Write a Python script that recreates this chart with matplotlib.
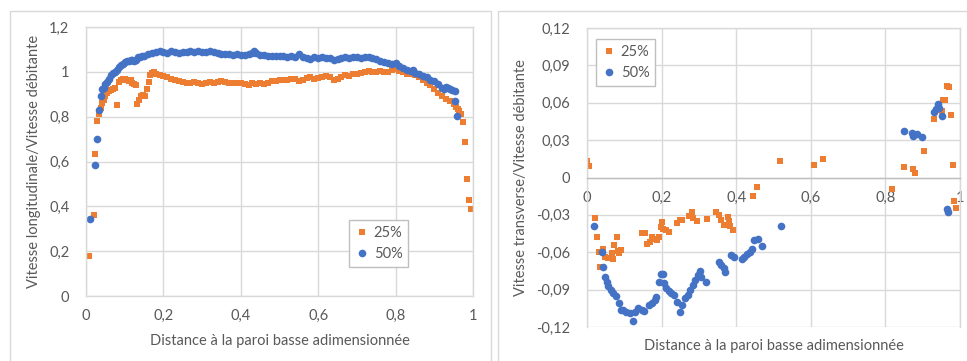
import numpy as np
import matplotlib.pyplot as plt
from matplotlib.patches import Rectangle
from matplotlib.ticker import FuncFormatter

plt.rcParams['font.family'] = ['Lato', 'DejaVu Sans']

# --- left chart: longitudinal velocity ---
long_x_25 = [0.009, 0.020, 0.024, 0.029, 0.034, 0.038, 0.042, 0.046, 0.050, 0.055,
             0.060, 0.065, 0.070, 0.075, 0.079, 0.085, 0.090, 0.095, 0.100, 0.105,
             0.110, 0.115, 0.120, 0.125, 0.130, 0.133, 0.138, 0.143, 0.148, 0.153,
             0.158, 0.162, 0.166, 0.170, 0.175, 0.180, 0.190, 0.200, 0.210, 0.220,
             0.230, 0.240, 0.250, 0.260, 0.270, 0.280, 0.290, 0.300, 0.310, 0.320,
             0.330, 0.340, 0.350, 0.360, 0.370, 0.380, 0.390, 0.400, 0.410, 0.420,
             0.430, 0.440, 0.450, 0.460, 0.470, 0.480, 0.490, 0.500, 0.510, 0.520,
             0.530, 0.540, 0.550, 0.560, 0.570, 0.580, 0.590, 0.600, 0.610, 0.620,
             0.630, 0.640, 0.650, 0.660, 0.670, 0.680, 0.690, 0.700, 0.710, 0.720,
             0.730, 0.740, 0.750, 0.760, 0.770, 0.780, 0.790, 0.800, 0.810, 0.820,
             0.830, 0.840, 0.850, 0.860, 0.870, 0.880, 0.890, 0.900, 0.910, 0.920,
             0.930, 0.940, 0.950, 0.955, 0.960, 0.965, 0.970, 0.975, 0.980, 0.985,
             0.990, 0.996]
long_y_25 = [0.18, 0.36, 0.635, 0.78, 0.81, 0.84, 0.86, 0.875, 0.89, 0.905,
             0.915, 0.92, 0.925, 0.93, 0.85, 0.955, 0.965, 0.97, 0.97, 0.965,
             0.96, 0.965, 0.95, 0.945, 0.94, 0.855, 0.875, 0.89, 0.895, 0.89,
             0.925, 0.955, 0.985, 0.995, 1.0, 0.99, 0.985, 0.98, 0.975, 0.97,
             0.965, 0.96, 0.955, 0.95, 0.948, 0.955, 0.95, 0.945, 0.95, 0.955,
             0.95, 0.955, 0.958, 0.955, 0.95, 0.952, 0.948, 0.95, 0.945, 0.942,
             0.948, 0.945, 0.95, 0.945, 0.952, 0.958, 0.96, 0.962, 0.965, 0.963,
             0.968, 0.97, 0.96, 0.965, 0.972, 0.975, 0.97, 0.973, 0.978, 0.98,
             0.975, 0.965, 0.97, 0.975, 0.985, 0.98, 0.99, 0.992, 0.995, 1.0,
             1.003, 0.998, 1.0, 1.003, 1.0, 0.998, 1.01, 1.012, 1.005, 1.0,
             0.992, 0.99, 0.985, 0.975, 0.965, 0.952, 0.94, 0.925, 0.905, 0.89,
             0.88, 0.87, 0.855, 0.845, 0.835, 0.825, 0.81, 0.775, 0.685, 0.52,
             0.43, 0.39]

long_x_50 = [0.010, 0.022, 0.028, 0.033, 0.038, 0.041, 0.046, 0.050, 0.055, 0.060,
             0.065, 0.070, 0.075, 0.080, 0.085, 0.090, 0.095, 0.100, 0.105, 0.110,
             0.115, 0.120, 0.125, 0.130, 0.135, 0.140, 0.145, 0.150, 0.160, 0.170,
             0.180, 0.190, 0.200, 0.210, 0.220, 0.230, 0.240, 0.250, 0.260, 0.270,
             0.280, 0.290, 0.300, 0.310, 0.320, 0.330, 0.340, 0.350, 0.360, 0.370,
             0.380, 0.390, 0.400, 0.410, 0.420, 0.430, 0.435, 0.440, 0.450, 0.460,
             0.470, 0.480, 0.490, 0.500, 0.510, 0.520, 0.530, 0.540, 0.550, 0.560,
             0.570, 0.580, 0.590, 0.600, 0.610, 0.620, 0.630, 0.640, 0.650, 0.660,
             0.670, 0.680, 0.690, 0.700, 0.710, 0.720, 0.730, 0.740, 0.750, 0.760,
             0.770, 0.780, 0.790, 0.800, 0.810, 0.820, 0.830, 0.840, 0.845, 0.850,
             0.860, 0.870, 0.880, 0.890, 0.900, 0.910, 0.920, 0.925, 0.930, 0.935,
             0.940, 0.945, 0.953, 0.954, 0.959]
long_y_50 = [0.344, 0.586, 0.702, 0.83, 0.89, 0.922, 0.93, 0.945, 0.955, 0.97,
             0.985, 0.995, 1.0, 1.01, 1.02, 1.03, 1.035, 1.045, 1.05, 1.05,
             1.055, 1.055, 1.05, 1.055, 1.065, 1.068, 1.07, 1.072, 1.078, 1.085,
             1.09, 1.092, 1.088, 1.085, 1.092, 1.09, 1.085, 1.088, 1.09, 1.092,
             1.09, 1.092, 1.09, 1.088, 1.092, 1.09, 1.085, 1.08, 1.078, 1.08,
             1.075, 1.078, 1.075, 1.075, 1.078, 1.085, 1.092, 1.082, 1.075, 1.075,
             1.072, 1.07, 1.07, 1.07, 1.07, 1.068, 1.07, 1.068, 1.078, 1.065,
             1.06, 1.058, 1.065, 1.062, 1.065, 1.06, 1.062, 1.055, 1.058, 1.062,
             1.065, 1.062, 1.068, 1.065, 1.062, 1.065, 1.065, 1.06, 1.058, 1.05,
             1.045, 1.038, 1.035, 1.038, 1.025, 1.015, 1.008, 1.005, 1.01, 0.995,
             0.99, 0.98, 0.975, 0.962, 0.958, 0.945, 0.93, 0.922, 0.932, 0.93,
             0.925, 0.92, 0.915, 0.872, 0.805]

# --- right chart: transverse velocity ---
trans_x_25 = [0.001, 0.006, 0.022, 0.028, 0.032, 0.035, 0.044, 0.048, 0.057, 0.066,
              0.072, 0.069, 0.080, 0.083, 0.087, 0.090, 0.147, 0.156, 0.160, 0.168,
              0.174, 0.180, 0.187, 0.192, 0.198, 0.200, 0.205, 0.212, 0.220, 0.240,
              0.248, 0.254, 0.274, 0.281, 0.285, 0.294, 0.321, 0.346, 0.353, 0.359,
              0.366, 0.377, 0.380, 0.384, 0.391, 0.446, 0.455, 0.517, 0.609, 0.632,
              0.819, 0.851, 0.875, 0.880, 0.903, 0.931, 0.951, 0.954, 0.961, 0.966,
              0.971, 0.977, 0.981, 0.984, 0.989]
trans_y_25 = [0.0135, 0.0095, -0.0325, -0.0475, -0.060, -0.0716, -0.0577, -0.0635, -0.065, -0.061,
              -0.054, -0.0657, -0.0475, -0.059, -0.061, -0.058, -0.0448, -0.0448, -0.053, -0.0515,
              -0.0475, -0.049, -0.050, -0.0475, -0.0395, -0.0355, -0.0415, -0.042, -0.0438, -0.0368,
              -0.034, -0.0345, -0.0313, -0.028, -0.0326, -0.0353, -0.033, -0.028, -0.030, -0.034,
              -0.038, -0.0315, -0.0353, -0.0388, -0.042, -0.0146, -0.0074, 0.0135, 0.010, 0.0151,
              -0.009, 0.0082, 0.0068, 0.0039, 0.0215, 0.047, 0.0536, 0.0622, 0.0622, 0.0737,
              0.0723, 0.0504, 0.0103, -0.0186, -0.0242]

trans_x_50 = [0.020, 0.039, 0.044, 0.048, 0.053, 0.057, 0.064, 0.071, 0.078, 0.085,
              0.091, 0.097, 0.105, 0.114, 0.124, 0.129, 0.138, 0.147, 0.153, 0.165,
              0.174, 0.181, 0.186, 0.192, 0.198, 0.203, 0.207, 0.212, 0.219, 0.225,
              0.232, 0.241, 0.248, 0.254, 0.263, 0.270, 0.277, 0.284, 0.290, 0.297,
              0.302, 0.306, 0.320, 0.353, 0.360, 0.366, 0.371, 0.386, 0.393, 0.415,
              0.422, 0.429, 0.436, 0.442, 0.449, 0.458, 0.469, 0.521, 0.850, 0.870,
              0.875, 0.886, 0.899, 0.929, 0.935, 0.940, 0.945, 0.951, 0.966, 0.969]
trans_y_50 = [-0.0389, -0.0598, -0.0716, -0.0796, -0.0836, -0.087, -0.090, -0.093, -0.095, -0.101,
              -0.1064, -0.106, -0.1077, -0.109, -0.1149, -0.1077, -0.105, -0.1064, -0.107, -0.1023,
              -0.1005, -0.0983, -0.0956, -0.0836, -0.0775, -0.0775, -0.085, -0.0885, -0.0915, -0.093,
              -0.0943, -0.0996, -0.1077, -0.1023, -0.0964, -0.0943, -0.0903, -0.0863, -0.0823, -0.0783,
              -0.0749, -0.0796, -0.0836, -0.0676, -0.0703, -0.073, -0.0757, -0.0623, -0.0636, -0.0658,
              -0.0636, -0.0614, -0.0596, -0.0577, -0.0502, -0.0494, -0.055, -0.0389, 0.0376, 0.036,
              0.0333, 0.0349, 0.0328, 0.0528, 0.0547, 0.0587, 0.0555, 0.0493, -0.025, -0.0277]

x_ticks = [0, 0.2, 0.4, 0.6, 0.8, 1]
long_ticks = [0, 0.2, 0.4, 0.6, 0.8, 1.0, 1.2]
trans_ticks = [-0.12, -0.09, -0.06, -0.03, 0, 0.03, 0.06, 0.09, 0.12]
labels = ['25%', '50%']

ORANGE = '#ED7D31'
BLUE = '#4472C4'
GRID = '#d9d9d9'
TXT = '#595959'
W, H = 967, 361

comma = FuncFormatter(lambda v, p: '{:g}'.format(round(v, 4)).replace('.', ','))

fig = plt.figure(figsize=(W / 100, H / 100), dpi=100)

# chart frames
for x0, x1 in [(10, 491), (498, 972)]:
    fig.patches.append(Rectangle((x0 / W, -0.1), (x1 - x0) / W, 1.1 - 11 / H,
                                 transform=fig.transFigure, fill=False,
                                 edgecolor=GRID, linewidth=1))

ax1 = fig.add_axes([86 / W, 1 - 296 / H, 387 / W, 269 / H])
ax2 = fig.add_axes([587 / W, 1 - 327 / H, 373 / W, 299 / H])


def style(ax, xpad, ypad):
    ax.grid(True, color=GRID, linewidth=1)
    ax.set_axisbelow(True)
    for s in ax.spines.values():
        s.set_color(GRID)
        s.set_linewidth(1)
    ax.tick_params(length=0, labelsize=10.5, labelcolor=TXT)
    ax.tick_params(axis='x', pad=xpad)
    ax.tick_params(axis='y', pad=ypad)
    ax.xaxis.set_major_formatter(comma)
    ax.yaxis.set_major_formatter(comma)
    ax.set_xticks(x_ticks)
    ax.set_xlim(0, 1)


ms = 5.0
ax1.plot(long_x_25, long_y_25, 's', color=ORANGE, ms=ms, mew=0, label=labels[0])
ax1.plot(long_x_50, long_y_50, 'o', color=BLUE, ms=ms + 0.5, mew=0, label=labels[1])
style(ax1, 9, 12)
ax1.set_yticks(long_ticks)
ax1.set_ylim(0, 1.2)
ax1.set_xlabel('Distance à la paroi basse adimensionnée', fontsize=10.5, color=TXT, labelpad=8)
ax1.set_ylabel('Vitesse longitudinale/Vitesse débitante', fontsize=10.5, color=TXT, labelpad=6)
ax1.legend(loc='upper left', bbox_to_anchor=(349 / W, 1 - 220 / H), bbox_transform=fig.transFigure,
           borderaxespad=0, fontsize=10.5, fancybox=False, edgecolor='#bfbfbf',
           handletextpad=0.3, handlelength=1.0, labelcolor=TXT, framealpha=1)

ax2.plot(trans_x_25, trans_y_25, 's', color=ORANGE, ms=ms, mew=0, label=labels[0])
ax2.plot(trans_x_50, trans_y_50, 'o', color=BLUE, ms=ms + 0.5, mew=0, label=labels[1])
style(ax2, 10, 12)
ax2.set_yticks(trans_ticks)
ax2.set_ylim(-0.12, 0.12)
ax2.spines['bottom'].set_position(('data', 0))
ax2.spines['bottom'].set_color('#bfbfbf')
ax2.set_xlabel('Distance à la paroi basse adimensionnée', fontsize=10.5, color=TXT)
ax2.xaxis.set_label_coords(0.5, -0.04)
ax2.set_ylabel('Vitesse transverse/Vitesse débitante', fontsize=10.5, color=TXT, labelpad=6)
ax2.legend(loc='upper left', bbox_to_anchor=(596 / W, 1 - 39 / H), bbox_transform=fig.transFigure,
           borderaxespad=0, fontsize=10.5, fancybox=False, edgecolor='#bfbfbf',
           handletextpad=0.3, handlelength=1.0, labelcolor=TXT, framealpha=1)

fig.savefig('out.png', dpi=100)
